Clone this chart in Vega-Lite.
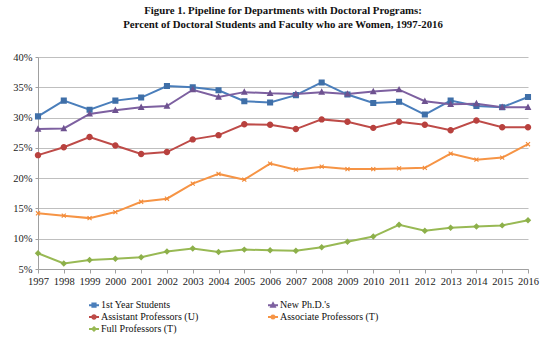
{
  "$schema": "https://vega.github.io/schema/vega-lite/v6.json",
  "autosize": {"type": "none"},
  "padding": {"left": 38, "top": 57, "right": 22, "bottom": 82},
  "width": 490,
  "height": 212,
  "background": "white",
  "title": {
    "text": ["Figure 1. Pipeline for Departments with Doctoral Programs:", "Percent of Doctoral Students and Faculty who are Women, 1997-2016"],
    "font": "Liberation Serif",
    "fontSize": 10.8,
    "fontWeight": "bold",
    "color": "#111111",
    "anchor": "middle",
    "lineHeight": 14,
    "offset": 22
  },
  "config": {
    "view": {"stroke": null},
    "axis": {"labelFont": "Liberation Serif", "labelFontSize": 10.5, "labelColor": "#222222", "gridColor": "#BFBFBF", "domainColor": "#A0A0A0", "tickColor": "#A0A0A0", "title": null},
    "legend": {"title": null, "orient": "none", "legendX": 50, "legendY": 242, "direction": "horizontal", "columns": 2, "columnPadding": 65, "rowPadding": 0, "padding": 0,
      "labelFont": "Liberation Serif", "labelFontSize": 10, "labelColor": "#111111", "labelOffset": 1, "symbolStrokeWidth": 2}
  },
  "data": {"values": [
    {"year": 1997, "series": "1st Year Students", "value": 30.2},
    {"year": 1998, "series": "1st Year Students", "value": 32.8},
    {"year": 1999, "series": "1st Year Students", "value": 31.3},
    {"year": 2000, "series": "1st Year Students", "value": 32.8},
    {"year": 2001, "series": "1st Year Students", "value": 33.3},
    {"year": 2002, "series": "1st Year Students", "value": 35.2},
    {"year": 2003, "series": "1st Year Students", "value": 35.0},
    {"year": 2004, "series": "1st Year Students", "value": 34.5},
    {"year": 2005, "series": "1st Year Students", "value": 32.7},
    {"year": 2006, "series": "1st Year Students", "value": 32.5},
    {"year": 2007, "series": "1st Year Students", "value": 33.7},
    {"year": 2008, "series": "1st Year Students", "value": 35.8},
    {"year": 2009, "series": "1st Year Students", "value": 33.8},
    {"year": 2010, "series": "1st Year Students", "value": 32.4},
    {"year": 2011, "series": "1st Year Students", "value": 32.6},
    {"year": 2012, "series": "1st Year Students", "value": 30.5},
    {"year": 2013, "series": "1st Year Students", "value": 32.8},
    {"year": 2014, "series": "1st Year Students", "value": 31.9},
    {"year": 2015, "series": "1st Year Students", "value": 31.7},
    {"year": 2016, "series": "1st Year Students", "value": 33.4},
    {"year": 1997, "series": "New Ph.D.'s", "value": 28.1},
    {"year": 1998, "series": "New Ph.D.'s", "value": 28.2},
    {"year": 1999, "series": "New Ph.D.'s", "value": 30.6},
    {"year": 2000, "series": "New Ph.D.'s", "value": 31.2},
    {"year": 2001, "series": "New Ph.D.'s", "value": 31.7},
    {"year": 2002, "series": "New Ph.D.'s", "value": 31.9},
    {"year": 2003, "series": "New Ph.D.'s", "value": 34.6},
    {"year": 2004, "series": "New Ph.D.'s", "value": 33.4},
    {"year": 2005, "series": "New Ph.D.'s", "value": 34.2},
    {"year": 2006, "series": "New Ph.D.'s", "value": 34.0},
    {"year": 2007, "series": "New Ph.D.'s", "value": 33.9},
    {"year": 2008, "series": "New Ph.D.'s", "value": 34.2},
    {"year": 2009, "series": "New Ph.D.'s", "value": 33.9},
    {"year": 2010, "series": "New Ph.D.'s", "value": 34.3},
    {"year": 2011, "series": "New Ph.D.'s", "value": 34.6},
    {"year": 2012, "series": "New Ph.D.'s", "value": 32.7},
    {"year": 2013, "series": "New Ph.D.'s", "value": 32.2},
    {"year": 2014, "series": "New Ph.D.'s", "value": 32.3},
    {"year": 2015, "series": "New Ph.D.'s", "value": 31.7},
    {"year": 2016, "series": "New Ph.D.'s", "value": 31.7},
    {"year": 1997, "series": "Assistant Professors (U)", "value": 23.8},
    {"year": 1998, "series": "Assistant Professors (U)", "value": 25.1},
    {"year": 1999, "series": "Assistant Professors (U)", "value": 26.8},
    {"year": 2000, "series": "Assistant Professors (U)", "value": 25.4},
    {"year": 2001, "series": "Assistant Professors (U)", "value": 24.0},
    {"year": 2002, "series": "Assistant Professors (U)", "value": 24.3},
    {"year": 2003, "series": "Assistant Professors (U)", "value": 26.4},
    {"year": 2004, "series": "Assistant Professors (U)", "value": 27.1},
    {"year": 2005, "series": "Assistant Professors (U)", "value": 28.9},
    {"year": 2006, "series": "Assistant Professors (U)", "value": 28.8},
    {"year": 2007, "series": "Assistant Professors (U)", "value": 28.1},
    {"year": 2008, "series": "Assistant Professors (U)", "value": 29.7},
    {"year": 2009, "series": "Assistant Professors (U)", "value": 29.3},
    {"year": 2010, "series": "Assistant Professors (U)", "value": 28.3},
    {"year": 2011, "series": "Assistant Professors (U)", "value": 29.3},
    {"year": 2012, "series": "Assistant Professors (U)", "value": 28.8},
    {"year": 2013, "series": "Assistant Professors (U)", "value": 27.9},
    {"year": 2014, "series": "Assistant Professors (U)", "value": 29.5},
    {"year": 2015, "series": "Assistant Professors (U)", "value": 28.4},
    {"year": 2016, "series": "Assistant Professors (U)", "value": 28.4},
    {"year": 1997, "series": "Associate Professors (T)", "value": 14.2},
    {"year": 1998, "series": "Associate Professors (T)", "value": 13.8},
    {"year": 1999, "series": "Associate Professors (T)", "value": 13.4},
    {"year": 2000, "series": "Associate Professors (T)", "value": 14.4},
    {"year": 2001, "series": "Associate Professors (T)", "value": 16.1},
    {"year": 2002, "series": "Associate Professors (T)", "value": 16.6},
    {"year": 2003, "series": "Associate Professors (T)", "value": 19.1},
    {"year": 2004, "series": "Associate Professors (T)", "value": 20.7},
    {"year": 2005, "series": "Associate Professors (T)", "value": 19.75},
    {"year": 2006, "series": "Associate Professors (T)", "value": 22.4},
    {"year": 2007, "series": "Associate Professors (T)", "value": 21.4},
    {"year": 2008, "series": "Associate Professors (T)", "value": 21.9},
    {"year": 2009, "series": "Associate Professors (T)", "value": 21.5},
    {"year": 2010, "series": "Associate Professors (T)", "value": 21.5},
    {"year": 2011, "series": "Associate Professors (T)", "value": 21.6},
    {"year": 2012, "series": "Associate Professors (T)", "value": 21.7},
    {"year": 2013, "series": "Associate Professors (T)", "value": 24.05},
    {"year": 2014, "series": "Associate Professors (T)", "value": 23.05},
    {"year": 2015, "series": "Associate Professors (T)", "value": 23.4},
    {"year": 2016, "series": "Associate Professors (T)", "value": 25.6},
    {"year": 1997, "series": "Full Professors (T)", "value": 7.6},
    {"year": 1998, "series": "Full Professors (T)", "value": 5.9},
    {"year": 1999, "series": "Full Professors (T)", "value": 6.5},
    {"year": 2000, "series": "Full Professors (T)", "value": 6.7},
    {"year": 2001, "series": "Full Professors (T)", "value": 6.95},
    {"year": 2002, "series": "Full Professors (T)", "value": 7.9},
    {"year": 2003, "series": "Full Professors (T)", "value": 8.4},
    {"year": 2004, "series": "Full Professors (T)", "value": 7.8},
    {"year": 2005, "series": "Full Professors (T)", "value": 8.2},
    {"year": 2006, "series": "Full Professors (T)", "value": 8.1},
    {"year": 2007, "series": "Full Professors (T)", "value": 8.0},
    {"year": 2008, "series": "Full Professors (T)", "value": 8.6},
    {"year": 2009, "series": "Full Professors (T)", "value": 9.5},
    {"year": 2010, "series": "Full Professors (T)", "value": 10.35},
    {"year": 2011, "series": "Full Professors (T)", "value": 12.3},
    {"year": 2012, "series": "Full Professors (T)", "value": 11.3},
    {"year": 2013, "series": "Full Professors (T)", "value": 11.8},
    {"year": 2014, "series": "Full Professors (T)", "value": 12.0},
    {"year": 2015, "series": "Full Professors (T)", "value": 12.2},
    {"year": 2016, "series": "Full Professors (T)", "value": 13.05}
  ]},
  "encoding": {
    "x": {"field": "year", "type": "ordinal", "scale": {"type": "point", "padding": 0}, "axis": {"labelAngle": 0, "grid": false, "tickSize": 4, "labelPadding": 3, "domain": true}},
    "y": {"field": "value", "type": "quantitative", "scale": {"domain": [5, 40], "nice": false, "zero": false}, "axis": {"values": [5, 10, 15, 20, 25, 30, 35, 40], "labelExpr": "datum.value + '%'", "tickSize": 3, "labelPadding": 3, "grid": true}}
  },
  "layer": [
    {
      "mark": {"type": "line", "strokeWidth": 2},
      "encoding": {
        "stroke": {"field": "series", "type": "nominal",
          "scale": {"domain": ["1st Year Students", "New Ph.D.'s", "Assistant Professors (U)", "Associate Professors (T)", "Full Professors (T)"], "range": ["#4A7EBB", "#7D60A0", "#BE4B48", "#F69445", "#98B954"]}}
      }
    },
    {
      "mark": {"type": "point", "filled": true, "size": 361, "opacity": 1, "strokeWidth": 0},
      "encoding": {
        "fill": {"field": "series", "type": "nominal",
          "scale": {"domain": ["1st Year Students", "New Ph.D.'s", "Assistant Professors (U)", "Associate Professors (T)", "Full Professors (T)"], "range": ["#3F6FA8", "#6E5290", "#B8413E", "#F28A38", "#8DB04A"]}},
        "shape": {"field": "series", "type": "nominal",
          "scale": {"domain": ["1st Year Students", "New Ph.D.'s", "Assistant Professors (U)", "Associate Professors (T)", "Full Professors (T)"],
            "range": [
              "M-1,0H1M-0.32,-0.32H0.32V0.32H-0.32Z",
              "M-1,0H1M0,-0.4L0.36,0.28H-0.36Z",
              "M-1,0H1M-0.34,0A0.34,0.34,0,1,0,0.34,0A0.34,0.34,0,1,0,-0.34,0Z",
              "M-1,0H1M0.17,0.254L0.254,0.17L-0.17,-0.254L-0.254,-0.17ZM0.254,-0.17L0.17,-0.254L-0.254,0.17L-0.17,0.254Z",
              "M-1,0H1M0,-0.34L0.34,0L0,0.34L-0.34,0Z"
            ]}}
      }
    }
  ]
}
